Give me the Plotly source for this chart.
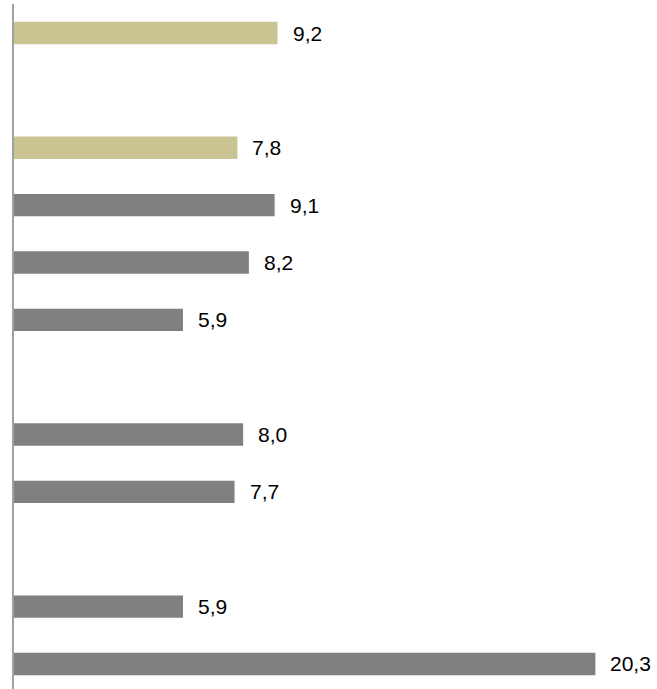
import plotly.graph_objects as go

categories = ["s1", "s2", "s3", "s4", "s5", "s6", "s7", "s8", "s9", "s10", "s11", "s12"]
values = [9.2, None, 7.8, 9.1, 8.2, 5.9, None, 8.0, 7.7, None, 5.9, 20.3]
groups = ["a", None, "a", "b", "b", "b", None, "b", "b", None, "b", "b"]
palette = {"a": "#C9C491", "b": "#808080", None: "#808080"}
colors = [palette[g] for g in groups]
labels = ["" if v is None else f"{v:.1f}".replace(".", ",") for v in values]

fig = go.Figure()
fig.add_trace(go.Bar(
    x=values, y=categories, orientation="h",
    marker=dict(color=colors, line=dict(width=0)),
    hoverinfo="skip",
))

for c, v, t in zip(categories, values, labels):
    if v is None:
        continue
    fig.add_annotation(x=v, y=c, text=t, showarrow=False, xanchor="left",
                       yanchor="middle", xshift=13,
                       font=dict(family="Liberation Sans, Arial", size=21, color="#000000"))

fig.update_layout(
    width=657, height=689,
    margin=dict(l=14, r=0, t=4, b=0),
    paper_bgcolor="white", plot_bgcolor="white",
    bargap=0.61, showlegend=False,
    xaxis=dict(range=[0, 22.45], showgrid=False, zeroline=False, showticklabels=False,
               showline=False, ticks=""),
    yaxis=dict(categoryorder="array", categoryarray=categories, type="category",
               range=[11.436, -0.506], showgrid=False, zeroline=False,
               showticklabels=False, ticks="", showline=True, linecolor="#A0A0A0", linewidth=2),
)

fig.write_html("out.html", config={"displayModeBar": False},
               post_script="document.body.style.margin='0px';document.body.style.overflow='hidden';")
